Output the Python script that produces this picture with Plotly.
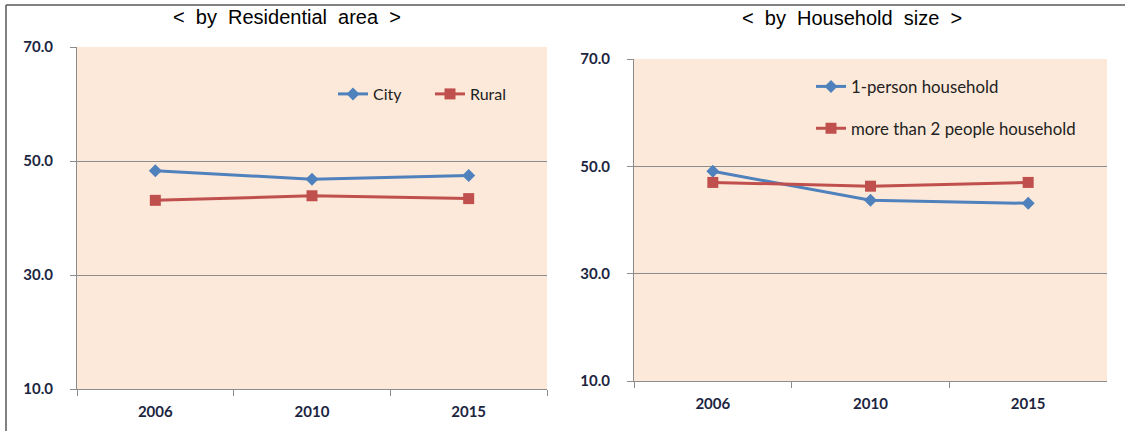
import plotly.graph_objects as go

years = ["2006", "2010", "2015"]
city = [48.3, 46.8, 47.45]
rural = [43.1, 43.9, 43.4]
one_person = [49.07, 43.7, 43.1]
two_plus = [47.0, 46.3, 47.0]
y_ticks = [10, 30, 50, 70]
left_title = "<\u00a0\u00a0by\u00a0\u00a0Residential\u00a0\u00a0area\u00a0\u00a0>"
right_title = "<\u00a0\u00a0by\u00a0\u00a0Household\u00a0\u00a0size\u00a0\u00a0>"

W, H = 1125, 431
BLUE = "#4F81BD"
RED = "#C0504D"
BG = "#FDE9D9"
GRID = "#8c8c8c"
TICKFONT = dict(family="Lato, Roboto, sans-serif", size=15, color="#1c2540", weight="bold")
LEGFONT = dict(family="Lato, Roboto, sans-serif", size=16, color="#222222")
LEGFONT2 = dict(family="Lato, Roboto, sans-serif", size=16.8, color="#222222")


def px(x):
    return x / W


def py(y):
    return 1 - y / H


fig = go.Figure()

fig.add_trace(go.Scatter(x=years, y=city, name="City", mode="lines+markers",
                         line=dict(color=BLUE, width=3),
                         marker=dict(symbol="diamond", size=10, color=BLUE),
                         xaxis="x", yaxis="y", legend="legend"))
fig.add_trace(go.Scatter(x=years, y=rural, name="Rural", mode="lines+markers",
                         line=dict(color=RED, width=3),
                         marker=dict(symbol="square", size=11, color=RED),
                         xaxis="x", yaxis="y", legend="legend"))
fig.add_trace(go.Scatter(x=years, y=one_person, name="1-person household", mode="lines+markers",
                         line=dict(color=BLUE, width=3),
                         marker=dict(symbol="diamond", size=10, color=BLUE),
                         xaxis="x2", yaxis="y2", legend="legend2", legendgroup="a"))
fig.add_trace(go.Scatter(x=years, y=two_plus, name="more than 2 people household", mode="lines+markers",
                         line=dict(color=RED, width=3),
                         marker=dict(symbol="square", size=11, color=RED),
                         xaxis="x2", yaxis="y2", legend="legend2", legendgroup="b"))

xcommon = dict(type="category", range=[-0.5, 2.5], showline=True, linecolor=GRID, linewidth=1,
               ticks="outside", tickson="boundaries", ticklen=6, tickcolor=GRID,
               showgrid=False, zeroline=False, tickfont=TICKFONT, ticklabelstandoff=9,
               automargin=False, fixedrange=True)
ycommon = dict(range=[10, 70], tickvals=y_ticks, tickformat=".1f", showline=True, linecolor=GRID,
               linewidth=1, ticks="outside", ticklen=6, tickcolor=GRID, showgrid=True,
               gridcolor=GRID, gridwidth=1, zeroline=False, tickfont=TICKFONT,
               ticklabelstandoff=14, automargin=False, fixedrange=True)

fig.update_layout(
    width=W, height=H,
    margin=dict(l=0, r=0, t=0, b=0, pad=0),
    paper_bgcolor="white",
    plot_bgcolor=BG,
    showlegend=True,
    xaxis=dict(domain=[px(77), px(547)], anchor="y", **xcommon),
    yaxis=dict(domain=[py(389), py(47)], anchor="x", **ycommon),
    xaxis2=dict(domain=[px(634), px(1107)], anchor="y2", **xcommon),
    yaxis2=dict(domain=[py(381), py(59)], anchor="x2", **ycommon),
    legend=dict(orientation="h", x=px(333), y=py(94), xanchor="left", yanchor="middle",
                bgcolor="rgba(0,0,0,0)", font=LEGFONT, entrywidth=52, itemwidth=30),
    legend2=dict(orientation="v", x=px(811), y=py(69), xanchor="left", yanchor="top",
                 bgcolor="rgba(0,0,0,0)", font=LEGFONT2, traceorder="grouped",
                 tracegroupgap=17, itemwidth=30),
    annotations=[
        dict(text=left_title, x=px(287), y=py(17), xref="paper", yref="paper",
             showarrow=False, xanchor="center", yanchor="middle",
             font=dict(family="Liberation Sans, Arial, sans-serif", size=20, color="#000000")),
        dict(text=right_title, x=px(852), y=py(18), xref="paper", yref="paper",
             showarrow=False, xanchor="center", yanchor="middle",
             font=dict(family="Liberation Sans, Arial, sans-serif", size=20, color="#000000")),
    ],
    shapes=[
        dict(type="line", xref="paper", yref="paper", x0=px(6), x1=1, y0=py(5), y1=py(5),
             line=dict(color="#595959", width=1.5)),
        dict(type="line", xref="paper", yref="paper", x0=px(6), x1=px(6), y0=py(5), y1=0,
             line=dict(color="#595959", width=1.5)),
    ],
)

fig.write_html("out.html", config={"displayModeBar": False},
               post_script="document.body.style.margin='0px';")
